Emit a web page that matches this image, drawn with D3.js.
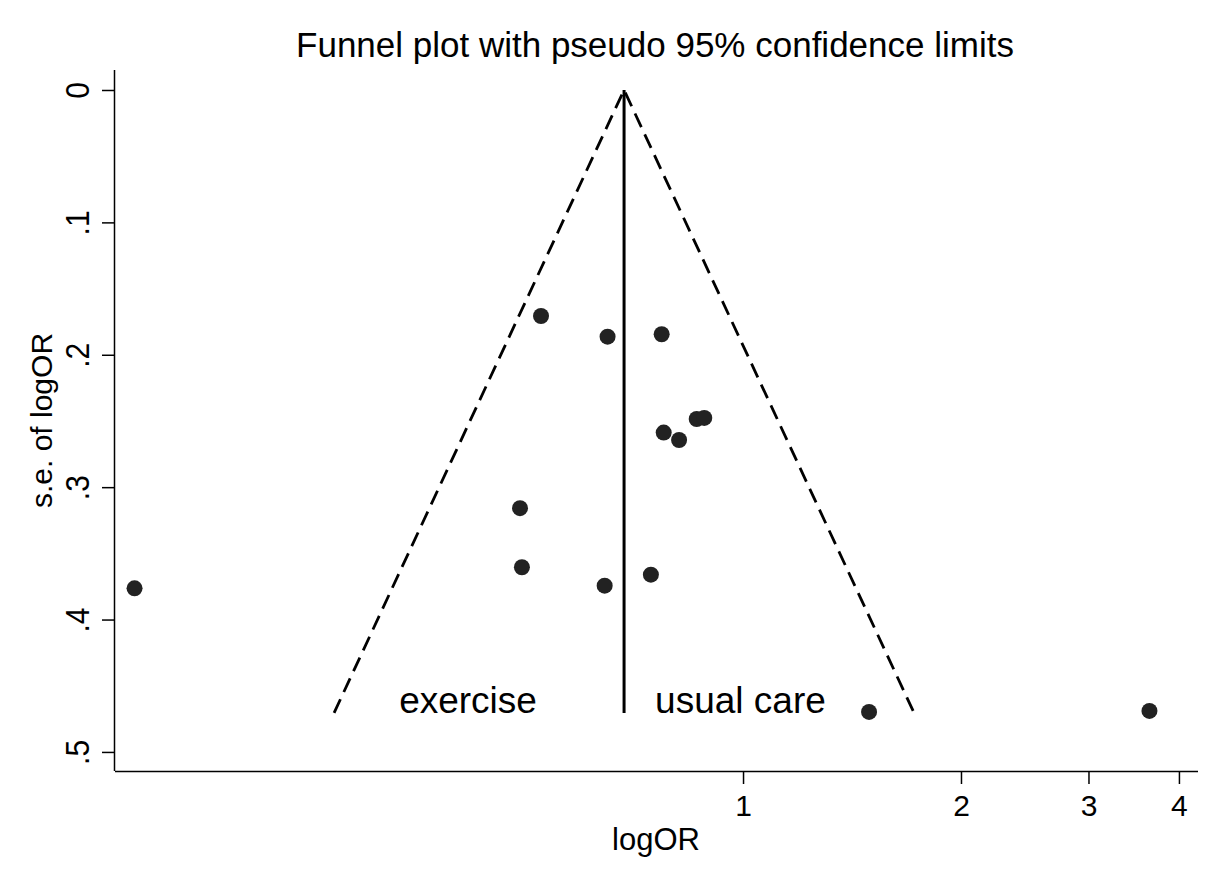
<!DOCTYPE html>
<html><head><meta charset="utf-8">
<script src="https://cdn.jsdelivr.net/npm/d3@7"></script>
<style>body{margin:0;background:#fff}svg{display:block}text{font-family:"Liberation Sans",Arial,sans-serif;fill:#000}</style>
</head><body><svg id="c" width="1218" height="881"></svg>
<script>
// Study odds ratios (plotted on log scale) and standard errors of logOR
const studyOR = [0.526, 0.650, 0.772, 0.777, 0.816, 0.863, 0.884, 0.492, 0.495, 0.644, 0.746, 0.1444, 1.493, 3.642];
const studySE = [0.1707, 0.1863, 0.1845, 0.2588, 0.2644, 0.2485, 0.2477, 0.3159, 0.3605, 0.3744, 0.3661, 0.3764, 0.4698, 0.469];
const pooledOR = 0.685;
const funnelMaxSE = 0.4705;
const xTicks = [1, 2, 3, 4];
const yTicks = [0, 0.1, 0.2, 0.3, 0.4, 0.5];
const yTickLabels = ["0", ".1", ".2", ".3", ".4", ".5"];
const sideLabels = ["exercise", "usual care"];
const sideLabelOR = [0.335, 0.756];
const sideLabelSE = 0.4703;

const svg = d3.select("#c");
const L = 115, R = 1198, T = 70, B = 771;
const x = d3.scaleLog().domain([0.1357, 4.25]).range([L, R]);
const y = d3.scaleLinear().domain([-0.0151, 0.5144]).range([T, B]);

// axes
const xAxis = d3.axisBottom(x).tickValues(xTicks).tickFormat(d3.format("d")).tickSize(13).tickSizeOuter(0).tickPadding(6);
const gx = svg.append("g").attr("transform", `translate(0,${B})`).call(xAxis);
gx.select(".domain").attr("stroke", "#000").attr("stroke-width", 1.5).attr("d", `M${L},0.5H${R}`);
gx.selectAll(".tick line").attr("stroke", "#000").attr("stroke-width", 1.5);
gx.selectAll(".tick text").attr("font-size", 30).attr("font-family", '"Liberation Sans",Arial,sans-serif').attr("fill", "#000").attr("dy", "0.88em");

const yAxis = d3.axisLeft(y).tickValues(yTicks).tickFormat((d, i) => yTickLabels[i]).tickSize(13).tickSizeOuter(0);
const gy = svg.append("g").attr("transform", `translate(${L},0)`).call(yAxis);
gy.select(".domain").attr("stroke", "#000").attr("stroke-width", 1.5).attr("d", `M-0.5,${T}V${B}`);
gy.selectAll(".tick line").attr("stroke", "#000").attr("stroke-width", 1.5);
gy.selectAll(".tick text").attr("font-size", 30).attr("font-family", '"Liberation Sans",Arial,sans-serif').attr("fill", "#000")
  .attr("x", null).attr("dy", null).attr("text-anchor", "middle")
  .attr("transform", "translate(-26,0) rotate(-90) scale(1,1.12)");

// funnel
const apexY = y(0), baseY = y(funnelMaxSE);
const lnC = Math.log(pooledOR);
const loOR = Math.exp(lnC - 1.96 * funnelMaxSE), hiOR = Math.exp(lnC + 1.96 * funnelMaxSE);
svg.append("path").attr("d", `M${x(loOR)},${baseY}L${x(pooledOR)},${apexY}L${x(hiOR)},${baseY}`)
  .attr("fill", "none").attr("stroke", "#000").attr("stroke-width", 2.8).attr("stroke-dasharray", "15,8");
svg.append("line").attr("x1", x(pooledOR)).attr("x2", x(pooledOR)).attr("y1", apexY).attr("y2", baseY)
  .attr("stroke", "#000").attr("stroke-width", 3);

// side labels
svg.selectAll(".side").data(sideLabels).join("text").attr("class", "side")
  .attr("x", (d, i) => x(sideLabelOR[i])).attr("y", y(sideLabelSE))
  .attr("font-size", 37).text(d => d);

// points
svg.selectAll("circle").data(studyOR).join("circle")
  .attr("cx", d => x(d)).attr("cy", (d, i) => y(studySE[i])).attr("r", 8).attr("fill", "#222");

// titles
svg.append("text").attr("x", 655).attr("y", 57).attr("text-anchor", "middle").attr("font-size", 35)
  .text("Funnel plot with pseudo 95% confidence limits");
svg.append("text").attr("x", 656).attr("y", 850).attr("text-anchor", "middle").attr("font-size", 31).text("logOR");
svg.append("text").attr("transform", `translate(52,${(T + B) / 2}) rotate(-90)`).attr("text-anchor", "middle").attr("font-size", 30)
  .text("s.e. of logOR");
</script></body></html>
